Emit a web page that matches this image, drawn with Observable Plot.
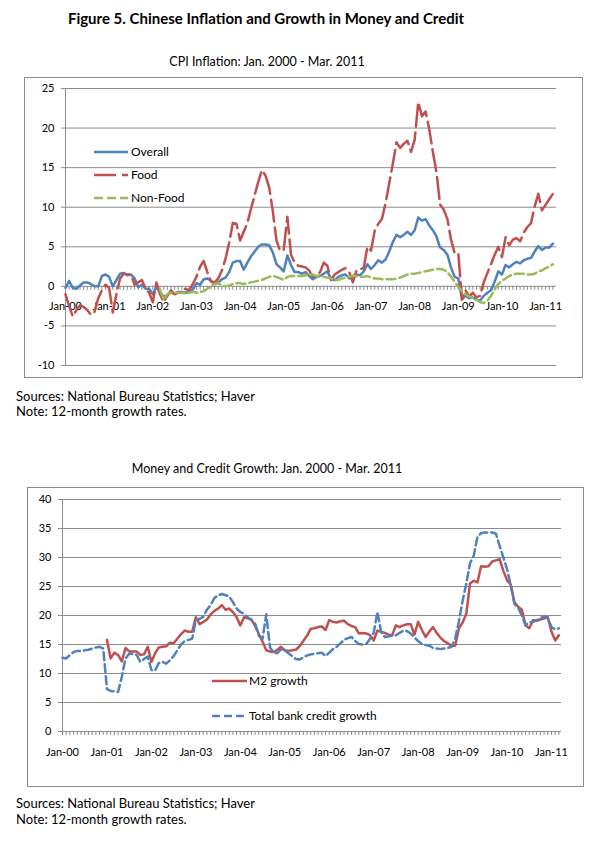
<!DOCTYPE html>
<html><head><meta charset="utf-8">
<script src="https://cdn.jsdelivr.net/npm/d3@7"></script>
<script src="https://cdn.jsdelivr.net/npm/@observablehq/plot@0.6"></script>
<style>
body{margin:0;background:#fff;font-family:Lato,sans-serif;color:#000;}
#page{position:relative;width:602px;height:842px;overflow:hidden;}
.abs{position:absolute;white-space:nowrap;}
.frame{position:absolute;border:1px solid #8a8a8a;box-sizing:border-box;}
.t{font-size:13px;line-height:16px;}
.leg{font-size:12px;line-height:16px;}
</style></head><body><div id="page">
<div class="abs" style="left:0;width:532px;text-align:center;top:8px;font-size:15px;line-height:20px;font-weight:bold;">Figure 5. Chinese Inflation and Growth in Money and Credit</div>
<div class="abs" style="left:0;width:534px;text-align:center;top:54px;font-size:12.5px;line-height:16px;">CPI Inflation: Jan. 2000 - Mar. 2011</div>
<div class="frame" style="left:24px;top:77px;width:559px;height:301px;"></div>
<div id="top" class="abs" style="left:25px;top:78px;"></div>
<div class="abs t" style="left:16px;top:388px;">Sources: National Bureau Statistics; Haver</div>
<div class="abs t" style="left:16px;top:403px;">Note: 12-month growth rates.</div>
<div class="abs" style="left:0;width:534px;text-align:center;top:461px;font-size:12.5px;line-height:16px;">Money and Credit Growth: Jan. 2000 - Mar. 2011</div>
<div class="frame" style="left:27px;top:487px;width:557px;height:300px;"></div>
<div id="bottom" class="abs" style="left:28px;top:488px;"></div>
<div class="abs t" style="left:16px;top:795px;">Sources: National Bureau Statistics; Haver</div>
<div class="abs t" style="left:16px;top:811px;">Note: 12-month growth rates.</div>

<svg class="abs" style="left:94px;top:146px" width="34" height="12"><line x1="0" y1="6" x2="34" y2="6" stroke="#4F81BD" stroke-width="2.5"/></svg>
<div class="abs leg" style="left:131px;top:144px;">Overall</div>
<svg class="abs" style="left:94px;top:169px" width="34" height="12"><line x1="0" y1="6" x2="34" y2="6" stroke="#C0504D" stroke-width="2.5" stroke-dasharray="22,6"/></svg>
<div class="abs leg" style="left:131px;top:167px;">Food</div>
<svg class="abs" style="left:94px;top:192px" width="34" height="12"><line x1="0" y1="6" x2="34" y2="6" stroke="#9BBB59" stroke-width="2.5" stroke-dasharray="9,4"/></svg>
<div class="abs leg" style="left:131px;top:190px;">Non-Food</div>

<svg class="abs" style="left:212px;top:675px" width="35" height="12"><line x1="0" y1="6" x2="35" y2="6" stroke="#C0504D" stroke-width="2.5"/></svg>
<div class="abs leg" style="left:249px;top:673px;">M2 growth</div>
<svg class="abs" style="left:212px;top:710px" width="35" height="12"><line x1="0" y1="6" x2="35" y2="6" stroke="#4F81BD" stroke-width="2.5" stroke-dasharray="8,4"/></svg>
<div class="abs leg" style="left:249px;top:708px;">Total bank credit growth</div>
</div>
<script>
// ---- Data (monthly, Jan-2000 .. Mar-2011) ----
const monthIndex = d3.range(135);
const yearTickMonths = [0,12,24,36,48,60,72,84,96,108,120,132];
const yearTickLabels = ["Jan-00","Jan-01","Jan-02","Jan-03","Jan-04","Jan-05","Jan-06","Jan-07","Jan-08","Jan-09","Jan-10","Jan-11"];
const cpiTicks = [-10,-5,0,5,10,15,20,25];
const moneyTicks = [0,5,10,15,20,25,30,35,40];

const cpiOverall = [
 -0.2,0.7,-0.2,-0.3,0.1,0.5,0.5,0.3,0.0,0.0,1.3,1.5,
 1.2,0.0,0.8,1.6,1.7,1.4,1.5,1.0,-0.1,0.2,-0.3,-0.3,
 -1.0,0.0,-0.8,-1.3,-1.1,-0.8,-0.9,-0.7,-0.7,-0.8,-0.7,-0.4,
 0.4,0.2,0.9,1.0,0.7,0.3,0.5,0.9,1.1,1.8,3.0,3.2,
 3.2,2.1,3.0,3.8,4.4,5.0,5.3,5.3,5.2,4.3,2.8,2.4,
 1.9,3.9,2.7,1.8,1.8,1.6,1.8,1.3,0.9,1.2,1.3,1.6,
 1.9,0.9,0.8,1.2,1.4,1.5,1.0,1.3,1.5,1.4,1.9,2.8,
 2.2,2.7,3.3,3.0,3.4,4.4,5.6,6.5,6.2,6.5,6.9,6.5,
 7.1,8.7,8.3,8.5,7.7,7.1,6.3,4.9,4.6,4.0,2.4,1.2,
 1.0,-1.6,-1.2,-1.5,-1.4,-1.7,-1.8,-1.2,-0.8,-0.5,0.6,1.9,
 1.5,2.7,2.4,2.8,3.1,2.9,3.3,3.5,3.6,4.4,5.1,4.6,
 4.9,4.9,5.4];
const cpiFood = [
 -1.0,-2.5,-3.8,-3.0,-2.4,-2.6,-3.0,-3.6,-3.2,-1.5,-0.5,0.2,
 -0.2,-3.3,-1.0,1.0,1.6,1.5,1.5,0.2,0.5,0.8,-0.3,-0.8,
 -2.0,0.5,-1.0,-2.0,-1.2,-0.5,-1.0,-0.8,-0.6,-0.3,-0.5,0.3,
 1.2,2.5,3.2,1.8,0.6,0.5,1.0,2.0,3.5,5.5,8.0,7.9,
 5.8,6.9,8.0,9.8,11.5,13.2,14.7,14.0,12.5,9.5,5.8,4.5,
 4.6,8.8,4.0,3.0,2.6,2.5,2.4,2.0,1.2,1.5,1.8,3.0,
 2.6,0.8,1.5,1.8,2.1,2.3,1.8,0.5,2.0,2.2,2.3,5.0,
 4.5,7.0,7.9,8.5,10.5,13.0,15.5,18.2,17.5,18.0,18.4,17.0,
 18.5,23.3,21.5,22.1,19.9,17.0,14.4,10.3,9.7,8.5,5.9,4.2,
 4.2,-1.7,-0.5,-1.3,-0.8,-1.4,-1.2,0.5,1.7,2.8,4.0,5.0,
 3.7,6.2,5.2,5.9,6.1,5.7,6.8,7.5,8.0,10.1,11.7,9.6,
 10.3,11.0,11.7];
const cpiNonFood = [
 null,null,null,null,null,null,null,null,null,null,null,null,
 null,null,null,null,null,null,null,null,null,null,null,null,
 null,null,-0.4,-1.7,-1.0,-0.8,-0.8,-0.8,-0.8,-0.9,-0.8,-0.7,
 -0.8,-0.7,-0.6,-0.3,0.0,0.3,0.4,0.1,0.0,0.1,0.3,0.4,
 0.4,0.3,0.4,0.5,0.6,0.7,0.8,1.0,1.2,1.3,1.2,1.0,
 0.8,1.2,1.3,1.3,1.3,1.3,1.4,1.5,1.5,1.3,1.4,1.2,
 1.1,1.0,0.8,0.8,1.0,1.1,1.2,1.3,1.3,1.2,1.2,1.3,
 1.1,1.0,1.0,0.9,0.9,0.9,0.9,1.0,1.1,1.3,1.5,1.6,
 1.6,1.7,1.8,1.9,2.0,2.1,2.2,2.2,2.1,1.8,1.2,0.6,
 -0.1,-0.6,-1.0,-1.3,-1.5,-1.7,-2.0,-2.1,-1.8,-1.2,-0.4,0.3,
 0.7,1.0,1.3,1.5,1.6,1.6,1.6,1.5,1.5,1.6,1.9,2.0,
 2.3,2.5,2.8];

const m2Growth = [
 null,null,null,null,null,null,null,null,null,null,null,null,
 15.8,12.6,13.6,13.2,12.1,14.4,13.8,13.8,13.8,13.2,13.3,14.6,
 12.0,13.5,14.5,14.6,14.7,15.3,15.2,16.0,16.8,17.4,17.2,17.2,
 19.7,18.5,18.9,19.3,20.2,20.8,21.2,21.8,21.0,21.2,20.6,19.7,
 18.3,19.7,19.5,19.3,18.2,16.8,15.5,14.0,13.8,13.7,14.1,14.6,
 14.0,13.9,14.0,14.1,14.7,15.6,16.5,17.7,17.8,18.0,18.1,17.5,
 19.2,18.9,18.8,19.0,19.1,18.5,18.2,18.0,16.9,17.0,16.9,16.6,
 15.7,17.4,17.2,17.0,16.7,16.6,18.3,18.0,18.3,18.5,18.5,16.7,
 18.9,17.5,16.3,17.2,18.0,17.0,16.2,15.6,15.2,14.8,14.8,17.8,
 18.8,20.3,25.5,26.0,25.7,28.5,28.4,28.5,29.3,29.5,29.7,27.7,
 26.1,25.3,22.3,21.5,21.0,18.3,17.8,19.2,19.1,19.3,19.5,19.7,
 17.2,15.7,16.6];
const creditGrowth = [
 12.7,12.6,13.2,13.7,13.9,13.9,14.0,14.1,14.3,14.5,14.6,14.3,
 7.3,7.0,6.9,6.8,9.4,12.6,13.4,13.4,13.2,12.0,12.5,12.9,
 10.6,10.5,11.8,12.0,11.7,12.3,13.0,14.0,15.0,15.6,15.8,16.0,
 19.2,19.4,19.8,21.0,21.8,23.0,23.5,23.7,23.5,23.3,22.3,21.2,
 20.6,20.3,19.7,19.2,18.6,16.5,16.0,20.2,14.5,13.6,13.5,14.2,
 14.0,13.5,13.0,12.5,12.4,12.8,13.1,13.3,13.4,13.5,13.6,13.0,
 13.6,14.2,14.6,15.2,15.8,16.1,16.3,15.6,15.1,15.0,15.1,16.0,
 17.0,20.6,17.2,16.3,16.4,16.5,16.6,17.0,17.4,17.3,16.9,16.2,
 15.6,15.1,14.9,14.8,14.4,14.3,14.2,14.3,14.4,14.6,16.0,19.0,
 22.5,25.5,29.0,30.3,33.5,34.2,34.3,34.3,34.3,34.1,32.0,30.0,
 28.0,25.2,22.0,21.3,20.0,18.3,18.8,18.9,19.2,19.5,19.9,19.5,
 18.0,17.6,17.8];

// ---- Tables ----
const cpiRows = monthIndex.map((m, i) => ({m, overall: cpiOverall[i], food: cpiFood[i], nonFood: cpiNonFood[i]}));
const moneyRows = monthIndex.map((m, i) => ({m, m2: m2Growth[i], credit: creditGrowth[i]}));

const GRID = "#8c8c8c";
const BLUE = "#4F81BD", RED = "#C0504D", GREEN = "#9BBB59";
const baseStyle = {fontFamily: "Lato, sans-serif", fontSize: "11px", color: "#000", background: "transparent", overflow: "visible"};

const topChart = Plot.plot({
  width: 557, height: 299,
  marginLeft: 40, marginRight: 26, marginTop: 10, marginBottom: 12,
  style: baseStyle,
  x: {domain: [0, 135], axis: null},
  y: {domain: [-10, 25]},
  marks: [
    Plot.gridY(cpiTicks, {stroke: GRID, strokeOpacity: 1}),
    Plot.ruleX([0], {stroke: GRID}),
    Plot.ruleY(cpiTicks, {x1: 0, x2: 0, insetLeft: -4, stroke: GRID}),
    Plot.ruleX(monthIndex, {x: d => d, y1: 0, y2: 0, insetBottom: -4, stroke: GRID}),
    Plot.axisY(cpiTicks, {tickSize: 0, tickPadding: 11, tickFormat: d => String(d), fontSize: 11}),
    Plot.text(yearTickMonths, {x: d => d, y: () => 0, dy: 20, text: (d, i) => yearTickLabels[i], fontSize: 11}),
    Plot.line(cpiRows, {x: "m", y: "overall", stroke: BLUE, strokeWidth: 2.5}),
    Plot.line(cpiRows, {x: "m", y: "food", stroke: RED, strokeWidth: 2.5, strokeDasharray: "22,6"}),
    Plot.line(cpiRows, {x: "m", y: "nonFood", stroke: GREEN, strokeWidth: 2.5, strokeDasharray: "9,4"})
  ]
});
document.getElementById("top").appendChild(topChart);

const bottomChart = Plot.plot({
  width: 555, height: 298,
  marginLeft: 34, marginRight: 22, marginTop: 11, marginBottom: 55,
  style: baseStyle,
  x: {domain: [0, 134.7], axis: null},
  y: {domain: [0, 40]},
  marks: [
    Plot.gridY(moneyTicks, {stroke: GRID, strokeOpacity: 1}),
    Plot.ruleX([0], {stroke: GRID}),
    Plot.ruleY(moneyTicks, {x1: 0, x2: 0, insetLeft: -4, stroke: GRID}),
    Plot.ruleX(monthIndex, {x: d => d, y1: 0, y2: 0, insetBottom: -4, stroke: GRID}),
    Plot.axisY(moneyTicks, {tickSize: 0, tickPadding: 11, tickFormat: d => String(d), fontSize: 11}),
    Plot.text(yearTickMonths, {x: d => d, y: () => 0, dy: 21, text: (d, i) => yearTickLabels[i], fontSize: 11}),
    Plot.line(moneyRows, {x: "m", y: "m2", stroke: RED, strokeWidth: 2.5}),
    Plot.line(moneyRows, {x: "m", y: "credit", stroke: BLUE, strokeWidth: 2.5, strokeDasharray: "8,4"})
  ]
});
document.getElementById("bottom").appendChild(bottomChart);
</script>
</body></html>
